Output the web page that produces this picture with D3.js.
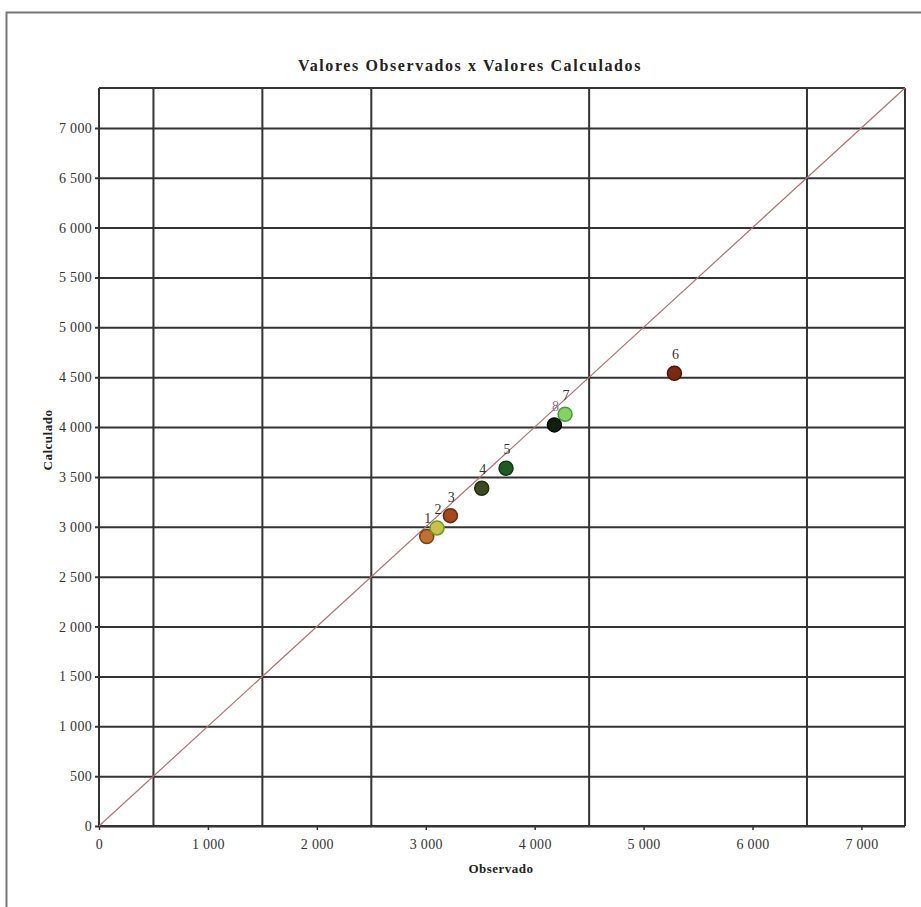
<!DOCTYPE html>
<html><head><meta charset="utf-8">
<script src="https://cdn.jsdelivr.net/npm/d3@7"></script>
<style>body{margin:0;background:#fff}svg{display:block}</style>
</head><body>
<script>
const labels = ["1","2","3","4","5","6","7","8"];
const observado = [3009, 3104, 3226, 3514, 3737, 5283, 4279, 4181];
const calculado = [2902, 2989, 3112, 3387, 3588, 4540, 4129, 4022];
const colors = ["#c0702f","#c9c247","#a3481f","#3b4a22","#1f5a22","#7a2a14","#86d068","#0f1f10"];
const strokes = ["#7a4015","#6a9a30","#6a2a10","#222d12","#0f3a12","#4a1508","#4a9a3a","#000000"];
const labelColors = ["#333","#333","#333","#333","#333","#333","#333","#8a7090"];
const xTicks = [0,1000,2000,3000,4000,5000,6000,7000];
const yTicks = [0,500,1000,1500,2000,2500,3000,3500,4000,4500,5000,5500,6000,6500,7000];
const xGrid = [500,1500,2500,4500,6500];
const fmt = v => v >= 1000 ? d3.format(",")(v).replace(/,/g," ") : String(v);

const W = 921, H = 907;
const svg = d3.select("body").append("svg").attr("width",W).attr("height",H);
svg.append("rect").attr("x",6.5).attr("y",12.5).attr("width",W).attr("height",H)
  .attr("fill","#fff").attr("stroke","#777").attr("stroke-width",2);

const x = d3.scaleLinear().domain([0,7400]).range([99,905]);
const y = d3.scaleLinear().domain([0,7400]).range([826,88]);
const font = "'Liberation Serif', 'Times New Roman', serif";
const gc = "#333";

svg.append("text").attr("x",470).attr("y",71).attr("text-anchor","middle")
  .attr("font-family",font).attr("font-weight","bold").attr("font-size",16)
  .attr("letter-spacing",1.6)
  .attr("fill","#222").text("Valores Observados x Valores Calculados");

// horizontal gridlines with y axis
const yAxis = d3.axisLeft(y).tickValues(yTicks).tickSize(-(905-99)).tickSizeOuter(0)
  .tickPadding(7).tickFormat(fmt);
const gy = svg.append("g").attr("transform","translate(99,0)").call(yAxis);
gy.select(".domain").remove();
gy.selectAll(".tick line").attr("x1",-4).attr("stroke",gc).attr("stroke-width",2);
gy.selectAll(".tick text").attr("font-family",font).attr("font-size",14)
  .attr("letter-spacing",0.3).attr("fill","#333");

// vertical gridlines
svg.append("g").selectAll("line").data(xGrid).join("line")
  .attr("x1",d=>x(d)).attr("x2",d=>x(d)).attr("y1",y(7400)).attr("y2",y(0))
  .attr("stroke",gc).attr("stroke-width",2);

// x axis
const xAxis = d3.axisBottom(x).tickValues(xTicks).tickSize(4).tickSizeOuter(0)
  .tickPadding(9).tickFormat(fmt);
const gx = svg.append("g").attr("transform","translate(0,826)").call(xAxis);
gx.select(".domain").remove();
gx.selectAll(".tick line").attr("stroke",gc).attr("stroke-width",1.5);
gx.selectAll(".tick text").attr("font-family",font).attr("font-size",14)
  .attr("letter-spacing",0.3).attr("fill","#333");

// frame lines
const frame = [[0,0,0,7400],[7400,0,7400,7400],[0,7400,7400,7400],[0,0,7400,0]];
svg.append("g").selectAll("line").data(frame).join("line")
  .attr("x1",d=>x(d[0])).attr("y1",d=>y(d[1])).attr("x2",d=>x(d[2])).attr("y2",d=>y(d[3]))
  .attr("stroke",gc).attr("stroke-width",2);

// diagonal
svg.append("line").attr("x1",x(0)).attr("y1",y(0)).attr("x2",x(7400)).attr("y2",y(7400))
  .attr("stroke","#b07070").attr("stroke-width",1.2);

// points
const idx = d3.range(labels.length);
svg.append("g").selectAll("circle").data(idx).join("circle")
  .attr("cx",i=>x(observado[i])).attr("cy",i=>y(calculado[i])).attr("r",7)
  .attr("fill",i=>colors[i]).attr("stroke",i=>strokes[i]).attr("stroke-width",1.5);
svg.append("g").selectAll("text").data(idx).join("text")
  .attr("x",i=>x(observado[i])+1).attr("y",i=>y(calculado[i])-14)
  .attr("text-anchor","middle").attr("font-family",font).attr("font-size",14)
  .attr("fill",i=>labelColors[i]).text(i=>labels[i]);

// axis titles
svg.append("text").attr("x",501).attr("y",873).attr("text-anchor","middle")
  .attr("font-family",font).attr("font-weight","bold").attr("font-size",13)
  .attr("letter-spacing",0.5).attr("fill","#222").text("Observado");
svg.append("text").attr("transform","translate(52,440) rotate(-90)").attr("text-anchor","middle")
  .attr("font-family",font).attr("font-weight","bold").attr("font-size",13)
  .attr("letter-spacing",0.5).attr("fill","#222").text("Calculado");
</script>
</body></html>
